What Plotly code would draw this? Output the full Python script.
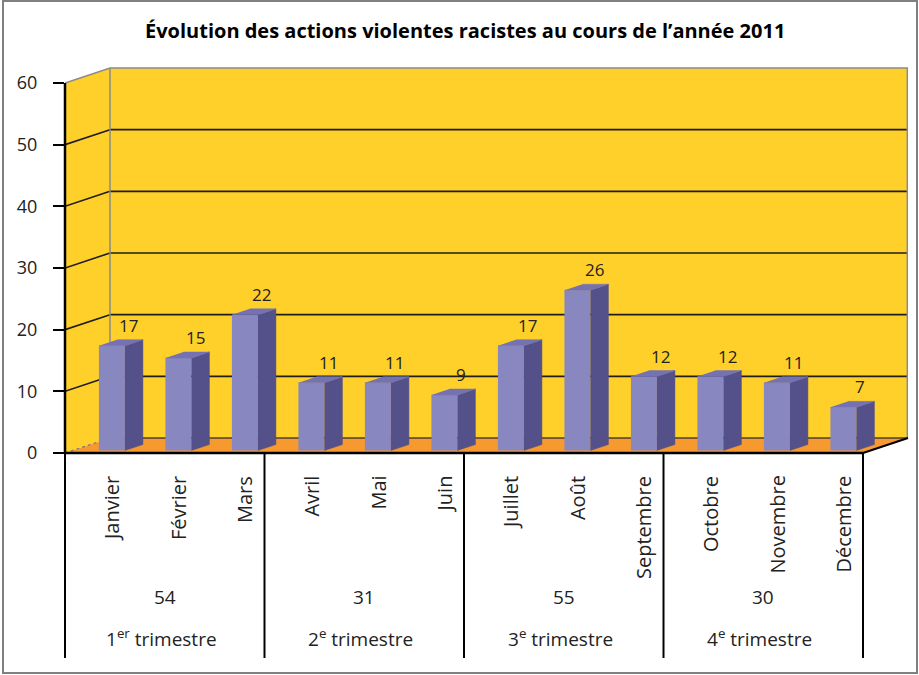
import plotly.graph_objects as go

# ---------------- data ----------------
months = ["Janvier", "Février", "Mars", "Avril", "Mai", "Juin",
          "Juillet", "Août", "Septembre", "Octobre", "Novembre", "Décembre"]
values = [17, 15, 22, 11, 11, 9, 17, 26, 12, 12, 11, 7]
quarter_totals = [54, 31, 55, 30]
quarter_names = ["1<sup>er</sup> trimestre", "2<sup>e</sup> trimestre",
                 "3<sup>e</sup> trimestre", "4<sup>e</sup> trimestre"]
y_ticks = [0, 10, 20, 30, 40, 50, 60]
title = "Évolution des actions violentes racistes au cours de l’année 2011"

# ---------------- geometry ----------------
W, H = 919, 675
L, R, T, B = 65, 11, 67, 222
plot_w = W - L - R
plot_h = H - T - B
PX_CAT = 66.5                 # px per category on the front plane
PX_VAL = 370 / 60             # px per value unit
XMAX = plot_w / PX_CAT
YMAX = plot_h / PX_VAL
DX = 45 / PX_CAT              # depth offset (x)
DY = 15 / PX_VAL              # depth offset (y)
YTOP = max(y_ticks)
NCAT = len(months)

BAR_W = 26 / PX_CAT
BAR_OFF = 0.51
BAR_B = 2.5 / PX_VAL
BAR_DX = 18 / PX_CAT
BAR_DY = 6 / PX_VAL

def px_x(px):
    return (px - L) / plot_w

def px_y(py):
    return (H - B - py) / plot_h

YELLOW = "#FFD02A"
ORANGE = "#F6992F"
FRONT = "#8987C0"
SIDE = "#53508A"
TOP = "#7572B4"
EDGE = "#8a8a8a"
FONT = "Open Sans"
TXT = "#222222"

fig = go.Figure()

# front faces of the bars
x0s = [i + BAR_OFF for i in range(NCAT)]
fig.add_trace(go.Bar(
    x=[x + BAR_W / 2 for x in x0s], y=values, base=BAR_B, width=BAR_W,
    marker=dict(color=FRONT, line=dict(width=0)), hoverinfo="skip",
    showlegend=False))

# side and top faces
sx, sy = [], []
tx, ty = [], []
for x0, v in zip(x0s, values):
    x1 = x0 + BAR_W
    sx += [x1, x1 + BAR_DX, x1 + BAR_DX, x1, None]
    sy += [BAR_B, BAR_B + BAR_DY, BAR_B + BAR_DY + v, BAR_B + v, None]
    tx += [x0, x1, x1 + BAR_DX, x0 + BAR_DX, None]
    ty += [BAR_B + v, BAR_B + v, BAR_B + v + BAR_DY, BAR_B + v + BAR_DY, None]
fig.add_trace(go.Scatter(x=sx, y=sy, mode="lines", fill="toself",
                         fillcolor=SIDE, line=dict(width=0.5, color=SIDE),
                         hoverinfo="skip", showlegend=False))
fig.add_trace(go.Scatter(x=tx, y=ty, mode="lines", fill="toself",
                         fillcolor=TOP, line=dict(width=0.5, color=TOP),
                         hoverinfo="skip", showlegend=False))

shapes = []
# walls and floor
shapes.append(dict(type="path", xref="x", yref="y", layer="below",
                   path=f"M 0,0 L {DX},{DY} L {DX},{YTOP+DY} L 0,{YTOP} Z",
                   fillcolor=YELLOW, line=dict(width=0)))
shapes.append(dict(type="rect", xref="x", yref="y", layer="below",
                   x0=DX, x1=XMAX, y0=DY, y1=YTOP + DY,
                   fillcolor=YELLOW, line=dict(width=0)))
shapes.append(dict(type="path", xref="x", yref="y", layer="below",
                   path=f"M 0,0 L {NCAT},0 L {NCAT+DX},{DY} L {DX},{DY} Z",
                   fillcolor=ORANGE, line=dict(width=0)))
# gridlines
for v in y_ticks:
    if v in (0, YTOP):
        continue
    shapes.append(dict(type="line", xref="x", yref="y", layer="below",
                       x0=DX, x1=XMAX, y0=v + DY, y1=v + DY,
                       line=dict(color="#1e1e1e", width=1.6)))
    shapes.append(dict(type="line", xref="x", yref="y", layer="below",
                       x0=0, x1=DX, y0=v, y1=v + DY,
                       line=dict(color="#1e1e1e", width=1.6)))
shapes.append(dict(type="line", xref="x", yref="y", layer="below",
                   x0=DX, x1=XMAX, y0=DY, y1=DY,
                   line=dict(color="#4a4030", width=1.4)))
# wall edges
shapes.append(dict(type="path", xref="x", yref="y", layer="below",
                   path=f"M 0,{YTOP} L {DX},{YTOP+DY} L {XMAX-0.01},{YTOP+DY} L {XMAX-0.01},{DY}",
                   line=dict(color=EDGE, width=1.5)))
shapes.append(dict(type="line", xref="x", yref="y", layer="below",
                   x0=DX, x1=DX, y0=DY, y1=YTOP + DY,
                   line=dict(color=EDGE, width=1.5)))
shapes.append(dict(type="line", xref="x", yref="y", layer="below",
                   x0=0, x1=DX, y0=0, y1=DY,
                   line=dict(color="#777777", width=1.2, dash="dot")))
# front axis lines
shapes.append(dict(type="line", xref="paper", yref="y", layer="above",
                   x0=0, x1=0, y0=0, y1=YTOP,
                   line=dict(color="black", width=2.5)))
shapes.append(dict(type="line", xref="paper", yref="paper", layer="above",
                   x0=0, x1=NCAT / XMAX, y0=0, y1=0,
                   line=dict(color="black", width=2.5)))
shapes.append(dict(type="line", xref="paper", yref="paper", layer="above",
                   x0=NCAT / XMAX, x1=(NCAT + DX) / XMAX, y0=0, y1=DY / YMAX,
                   line=dict(color="black", width=2)))
# table dividers under the axis
for q in range(len(quarter_totals) + 1):
    xq = 3 * q / XMAX
    shapes.append(dict(type="line", xref="paper", yref="paper",
                       x0=xq, x1=xq, y0=0, y1=px_y(658),
                       line=dict(color="black", width=2)))
# outer frame
shapes.append(dict(type="rect", xref="paper", yref="paper",
                   x0=px_x(3), x1=px_x(917), y0=px_y(673), y1=px_y(1),
                   line=dict(color="#808080", width=2), fillcolor="rgba(0,0,0,0)"))

annotations = []
# bar value labels
for x0, v in zip(x0s, values):
    annotations.append(dict(x=x0 + BAR_W + 4 / PX_CAT, y=BAR_B + v + BAR_DY,
                            xref="x", yref="y", text=str(v), showarrow=False,
                            xanchor="center", yanchor="bottom", yshift=1,
                            font=dict(family=FONT, size=17, color=TXT)))
# month labels
for i, m in enumerate(months):
    annotations.append(dict(x=i + 0.70, y=px_y(474), xref="x", yref="paper",
                            text=m, showarrow=False, textangle=-90,
                            xanchor="center", yanchor="top",
                            font=dict(family=FONT, size=20, color=TXT)))
# quarter totals and names
for q, (tot, name) in enumerate(zip(quarter_totals, quarter_names)):
    annotations.append(dict(x=3 * q + 1.5, y=px_y(597), xref="x", yref="paper",
                            text=str(tot), showarrow=False,
                            xanchor="center", yanchor="middle",
                            font=dict(family=FONT, size=19, color=TXT)))
    annotations.append(dict(x=3 * q + 1.45, y=px_y(638), xref="x", yref="paper",
                            text=name, showarrow=False,
                            xanchor="center", yanchor="middle",
                            font=dict(family=FONT, size=19, color=TXT)))
# title
annotations.append(dict(x=px_x(465), y=px_y(30), xref="paper", yref="paper",
                        text=f"<b>{title}</b>", showarrow=False,
                        xanchor="center", yanchor="middle",
                        font=dict(family=FONT, size=20, color="black")))

fig.update_layout(
    width=W, height=H,
    margin=dict(l=L, r=R, t=T, b=B, autoexpand=False),
    paper_bgcolor="white", plot_bgcolor="white",
    showlegend=False,
    shapes=shapes, annotations=annotations,
    xaxis=dict(range=[0, XMAX], visible=False, fixedrange=True),
    yaxis=dict(range=[0, YMAX], tickvals=y_ticks, ticks="outside",
               ticklen=11, tickwidth=2, tickcolor="black",
               showgrid=False, zeroline=False, showline=False,
               ticklabelstandoff=12,
               tickfont=dict(family=FONT, size=18, color=TXT),
               fixedrange=True),
)

fig.write_html("out.html", config={"displayModeBar": False},
               post_script="document.body.style.margin='0';document.body.style.overflow='hidden';")
